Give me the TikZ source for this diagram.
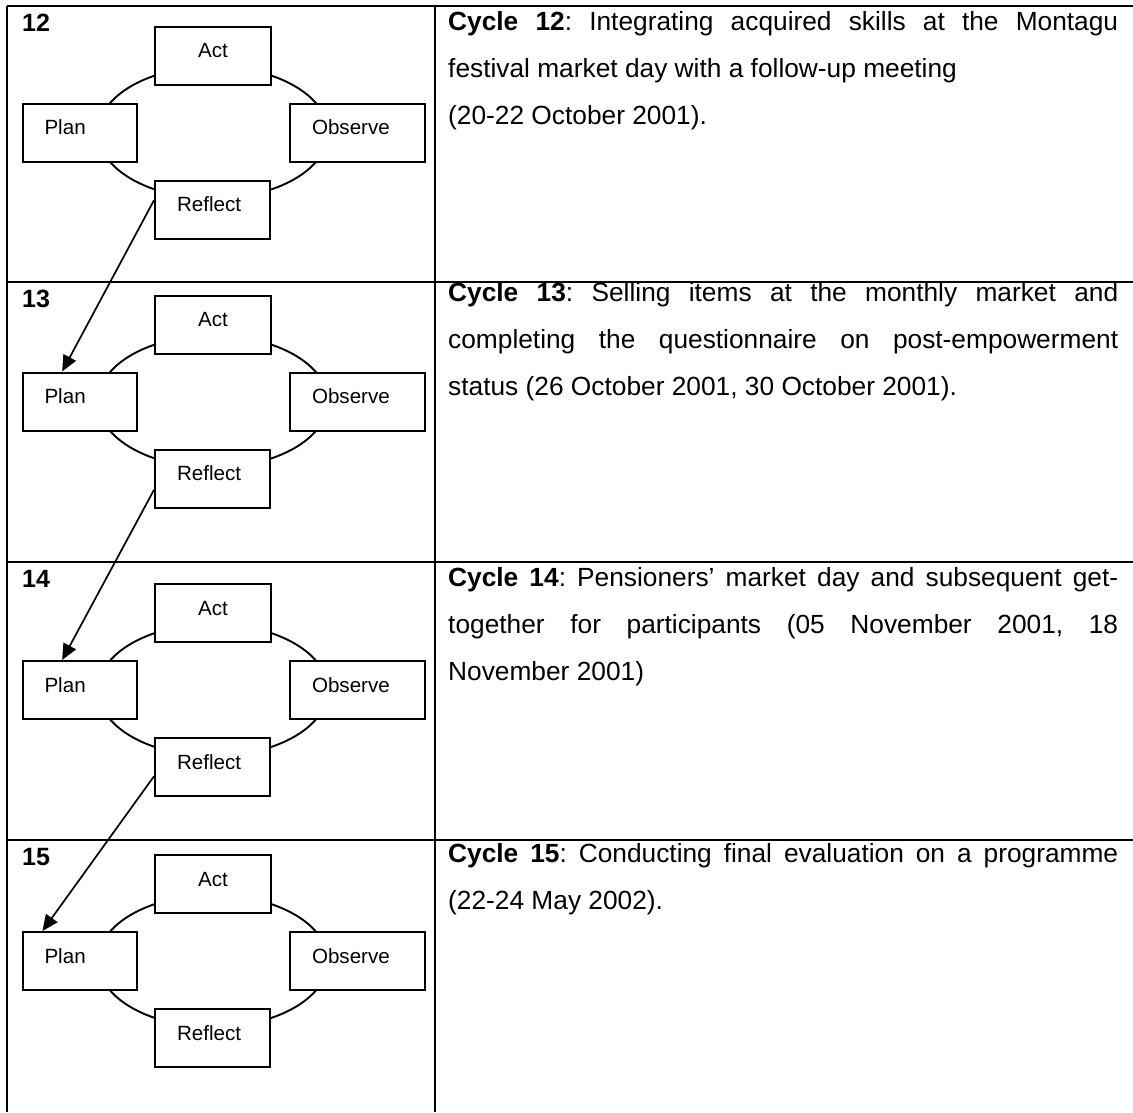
\documentclass[tikz,border=0pt]{standalone}
\usepackage{fontspec}
\setmainfont{Liberation Sans}
\usetikzlibrary{arrows.meta,calc}
\hyphenpenalty=10000
\tolerance=10000
\frenchspacing
\begin{document}
\begin{tikzpicture}[x=1pt,y=-1pt,
  rule/.style={line width=1.8pt},
  ring/.style={line width=1.9pt},
  stage/.style={draw,fill=white,line width=2pt,minimum height=58pt,
    inner ysep=0pt,inner xsep=22pt,text height=14.5pt,text depth=10pt,
    align=left,font=\fontsize{20.6}{24}\selectfont},
  link/.style={line width=1.7pt,-{Triangle[length=16pt,width=14pt]}},
  cyclenum/.style={anchor=base west,inner sep=0pt,
    font=\fontsize{25}{25}\bfseries\selectfont},
  cycletext/.style={anchor=base west,inner sep=0pt,text width=670pt,
    align=justify,font=\fontsize{26.3}{47}\selectfont\frenchspacing}
]
\useasboundingbox (0,0) rectangle (1133,1112);

% table rules
\draw[rule] (7,6) -- (1133,6);
\draw[rule] (7,6) -- (7,1112);
\draw[rule] (435,6) -- (435,1112);
\foreach \y in {282,562,840} \draw[rule] (7,\y) -- (1133,\y);

% one plan-act-observe-reflect ring per cycle
\foreach \n/\cy in {12/132.5,13/401.5,14/690,15/961}{
  \draw[ring] (213,\cy) ellipse [x radius=115, y radius=66];
  \node[stage,text width=72pt,align=center] (act\n) at (213,\cy-77) {Act};
  \node[stage,text width=70pt] (plan\n) at (79.5,\cy) {Plan};
  \node[stage,text width=91pt] (observe\n) at (357.5,\cy) {Observe};
  \node[stage,text width=71pt] (reflect\n) at (212.5,\cy+77) {Reflect};
}

% cycle numbers
\node[cyclenum] (num12) at (22,31) {12};
\node[cyclenum] (num13) at (22,307) {13};
\node[cyclenum] (num14) at (22,587) {14};
\node[cyclenum] (num15) at (22,865) {15};

% links from each reflection to the next plan
\draw[link] (reflect12.171.6) -- (plan13.120.7);
\draw[link] (reflect13.191.8) -- (plan14.120.7);
\draw[link] (reflect14.189.9) -- (plan15.141.5);

% descriptions
\node[cycletext] (txt12) at (448,30) {\textbf{Cycle 12}: Integrating acquired skills at the Montagu\linebreak festival market day with a follow-up meeting\newline (20-22 October 2001).};
\node[cycletext] (txt13) at (448,301) {\textbf{Cycle 13}: Selling items at the monthly market and\linebreak completing the questionnaire on post-empowerment\linebreak status (26 October 2001, 30 October 2001).};
\node[cycletext] (txt14) at (448,586) {\textbf{Cycle 14}: Pensioners’ market day and subsequent get-\linebreak together for participants (05 November 2001, 18\linebreak November 2001)};
\node[cycletext] (txt15) at (448,862) {\textbf{Cycle 15}: Conducting final evaluation on a programme\linebreak (22-24 May 2002).};
\end{tikzpicture}
\end{document}
